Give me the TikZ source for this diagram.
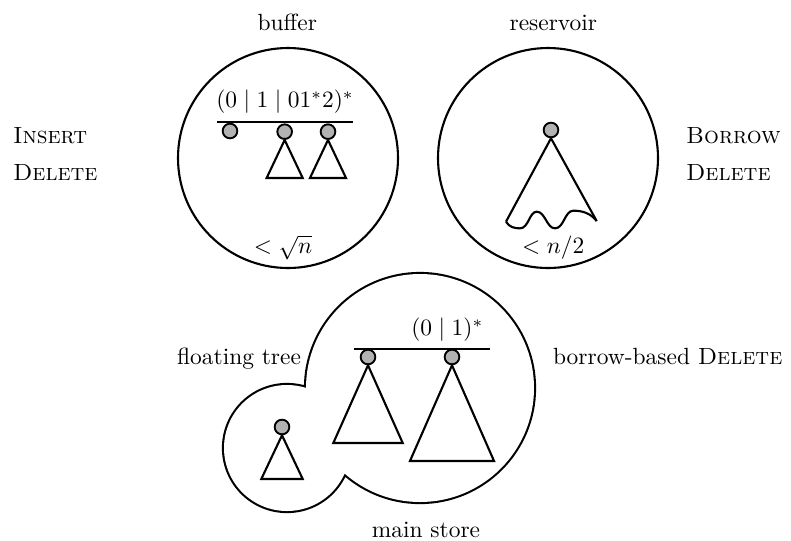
\documentclass[tikz,border=0pt]{standalone}
\usepackage{amsmath,amssymb}
\usepackage{xcolor}
\usepackage{tikz}
\usetikzlibrary{positioning,calc}
\definecolor{rootgray}{gray}{0.7}

\begin{document}
\begin{tikzpicture}[yscale=-1, line width=0.9pt,
  root/.style={circle, draw, fill=rootgray, inner sep=0pt, minimum size=2.2mm, line width=0.8pt},
  lbl/.style={inner sep=0pt}]
\useasboundingbox (0,0) rectangle (11.865,8.1);
% buffer
\begin{scope}
\draw (4.32,2.37) circle (1.65);
\node[lbl, anchor=base] (buftitle) at (4.31,0.45) {buffer};
\node[lbl, anchor=base west] (ins) at (0.18,2.145) {\textsc{Insert}};
\node[lbl, anchor=base west] (delA) at (0.18,2.70) {\textsc{Delete}};
\node[lbl] (bufre) at (4.275,1.53) {$(0 \mid 1 \mid 01^{*}2)^{*}$};
\draw (3.255,1.83) -- (5.295,1.83);
\node[root] (b1) at (3.45,1.965) {};
\node[root] (b2) at (4.27,1.975) {};
\node[root] (b3) at (4.92,1.975) {};
\foreach \n/\w/\h in {b2/0.27/0.57, b3/0.27/0.57}
  \draw (\n.south) -- ++(-\w,\h) -- ++(2*\w,0) -- cycle;
\node[lbl] (bufsize) at (4.245,3.71) {$<\sqrt{n}$};
\end{scope}
% reservoir
\begin{scope}
\draw (8.22,2.37) circle (1.65);
\node[lbl, anchor=base] (restitle) at (8.3,0.45) {reservoir};
\node[lbl, anchor=base west] (bor) at (10.275,2.145) {\textsc{Borrow}};
\node[lbl, anchor=base west] (delB) at (10.275,2.70) {\textsc{Delete}};
\node[root] (r1) at (8.265,1.95) {};
\draw (7.59,3.325) -- (r1.south) -- (8.95,3.315);
\draw (7.59,3.325) .. controls (7.64,3.41) and (7.72,3.425) .. (7.80,3.425)
  .. controls (7.93,3.425) and (7.94,3.175) .. (8.05,3.175)
  .. controls (8.18,3.175) and (8.20,3.425) .. (8.325,3.425)
  .. controls (8.46,3.425) and (8.47,3.16) .. (8.60,3.16)
  .. controls (8.74,3.16) and (8.86,3.20) .. (8.95,3.315);
\node[lbl] (ressize) at (8.3,3.72) {$<n/2$};
\end{scope}
% main store
\begin{scope}
\draw[line width=1.8pt] (6.30,5.82) circle (1.71) (4.305,6.72) circle (0.945);
\fill[white] (6.30,5.82) circle (1.71) (4.305,6.72) circle (0.945);
\node[lbl, anchor=base] (maintitle) at (6.39,8.055) {main store};
\node[lbl, anchor=base east] (float) at (4.53,5.46) {floating tree};
\node[lbl, anchor=base west] (bbdel) at (8.28,5.46) {borrow-based \textsc{Delete}};
\node[lbl] (mainre) at (6.71,4.95) {$(0 \mid 1)^{*}$};
\draw (5.31,5.235) -- (7.35,5.235);
\node[root] (m1) at (5.52,5.355) {};
\node[root] (m2) at (6.78,5.355) {};
\node[root] (f1) at (4.23,6.405) {};
\foreach \n/\w/\h in {m1/0.52/1.165, m2/0.63/1.435, f1/0.31/0.655}
  \draw (\n.south) -- ++(-\w,\h) -- ++(2*\w,0) -- cycle;
\end{scope}
\end{tikzpicture}
\end{document}
